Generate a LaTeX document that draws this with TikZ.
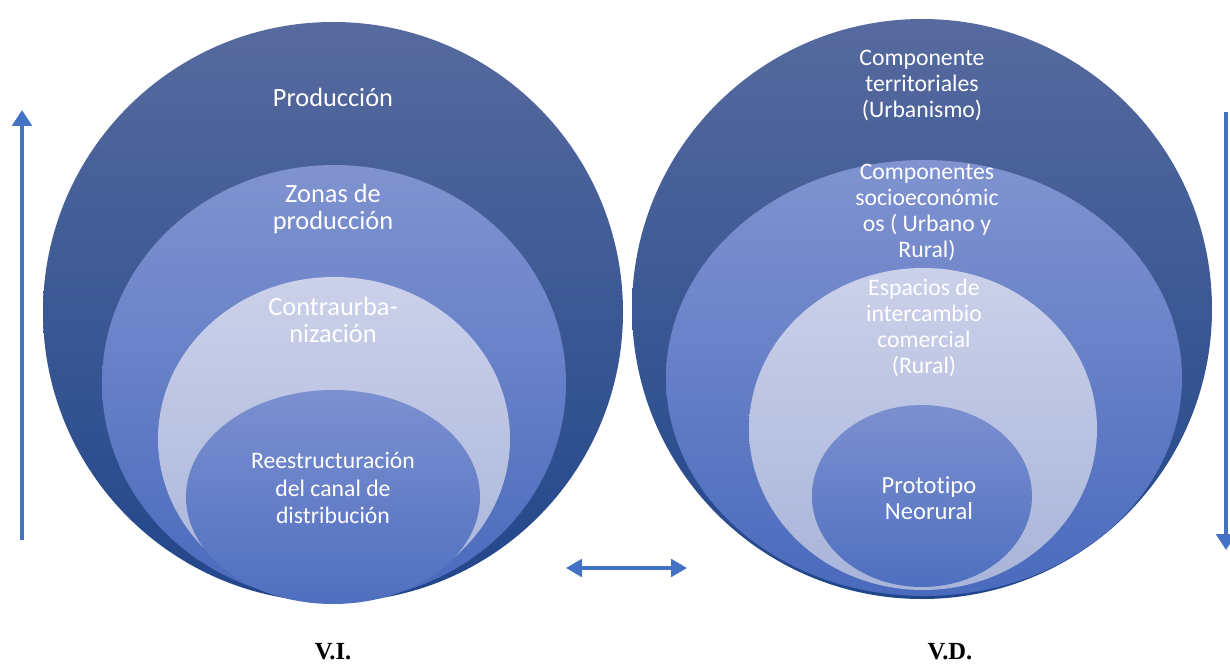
\documentclass[tikz,border=0pt]{standalone}
\usepackage{fontspec}
\setmainfont[Ligatures=NoCommon]{Carlito}
\newfontfamily\varfont{Liberation Serif}
\usetikzlibrary{arrows.meta, positioning, shapes.geometric}

\definecolor{arrowblue}{HTML}{4472C4}
\definecolor{outertop}{HTML}{566A9E}
\definecolor{outerbot}{HTML}{21468A}
\definecolor{midtop}{HTML}{8093D0}
\definecolor{midbot}{HTML}{4A6ABD}
\definecolor{lighttop}{HTML}{CBD1EA}
\definecolor{lightbot}{HTML}{A8B4D9}
\definecolor{coretop}{HTML}{7C90D0}
\definecolor{corebot}{HTML}{4F6FBF}

\tikzset{
  ringtext/.style={text=white, align=center, font=\fontsize{13.5}{15.8}\selectfont},
  bigtext/.style={text=white, align=center, font=\fontsize{15}{15.8}\selectfont},
  ringtextr/.style={text=white, align=center, font=\fontsize{13.5}{14.8}\selectfont},
  varlabel/.style={inner sep=0pt, font=\varfont\bfseries\fontsize{14}{15}\selectfont},
  bluearrow/.style={arrowblue, line width=2.4pt, -{Triangle[length=9pt, width=11pt]}},
  outerring/.style={top color=outertop, bottom color=outerbot},
  midring/.style={top color=midtop, bottom color=midbot},
  lightring/.style={top color=lighttop, bottom color=lightbot},
  corering/.style={top color=coretop, bottom color=corebot}
}

\begin{document}
\begin{tikzpicture}[x=0.02cm, y=-0.02cm]
\useasboundingbox (0,0) rectangle (1230,665);

% Left set of ellipses (V.I.)
\shade[outerring] (333,312) circle [radius=290];
\shade[midring] (334,383) ellipse [x radius=232, y radius=218];
\shade[lightring] (334,439) ellipse [x radius=176, y radius=162];
\shade[corering] (333,497) ellipse [x radius=147, y radius=107];

% Right set of ellipses (V.D.)
\shade[outerring] (922,309) circle [radius=290];
\shade[midring] (924,378) ellipse [x radius=258, y radius=218];
\shade[lightring] (923,429) ellipse [x radius=174, y radius=161];
\shade[corering] (922,496) ellipse [x radius=110, y radius=91];

% Left texts
\node[bigtext] (prod) at (333,97) {Producción};
\node[bigtext] (zonas) at (333,209) {Zonas de\\producción};
\node[bigtext] (contra) at (333,320) {Contraurba-\\nización};
\node[ringtext] (reest) at (333,488) {Reestructuración\\del canal de\\distribución};

% Right texts
\node[ringtextr] (terr) at (922,85) {Componente\\territoriales\\(Urbanismo)};
\node[ringtextr] (socio) at (927,212) {Componentes\\socioeconómic\\os ( Urbano y\\Rural)};
\node[ringtextr] (espac) at (924,328) {Espacios de\\intercambio\\comercial\\(Rural)};
\node[ringtextr, font=\fontsize{14}{14.8}\selectfont] (proto) at (929,498) {Prototipo\\Neorural};

% Variable labels
\node[varlabel] (vi) at (333,652) {V.I.};
\node[varlabel] (vd) at (950,652) {V.D.};

% Arrows
\coordinate (upS) at (22,540);
\coordinate (upE) at (22,110);
\coordinate (dnS) at (1226,112);
\coordinate (dnE) at (1226,550);
\coordinate (hzL) at (566,568);
\coordinate (hzR) at (687,568);
\draw[bluearrow] (upS) -- (upE);
\draw[bluearrow] (dnS) -- (dnE);
\draw[bluearrow, line width=1.8pt, {Triangle[length=9pt, width=10pt]}-{Triangle[length=9pt, width=10pt]}] (hzL) -- (hzR);

\end{tikzpicture}
\end{document}
